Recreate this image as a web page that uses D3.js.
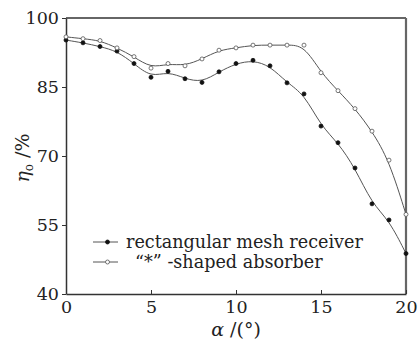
<!DOCTYPE html>
<html>
<head>
<meta charset="utf-8">
<script src="https://cdn.jsdelivr.net/npm/d3@7"></script>
<style>
  body { margin: 0; background: #fff; }
  svg, svg text { font-family: 'DejaVu Serif', 'Liberation Serif', serif; }
</style>
</head>
<body>
<div id="chart"></div>
<script>
var angles = [0, 1, 2, 3, 4, 5, 6, 7, 8, 9, 10, 11, 12, 13, 14, 15, 16, 17, 18, 19, 20];
var meshReceiver = [95.2, 94.6, 93.8, 92.8, 90.1, 87.1, 88.4, 86.8, 86.0, 88.3, 90.1, 90.8, 89.6, 85.9, 83.5, 76.5, 72.9, 67.4, 59.6, 56.1, 48.8];
var starAbsorber = [95.9, 95.5, 95.1, 93.5, 91.6, 89.1, 90.1, 89.6, 91.1, 93.0, 93.5, 94.1, 94.1, 94.1, 94.1, 88.1, 84.2, 80.3, 75.4, 69.1, 57.3];
var xTicks = [0, 5, 10, 15, 20];
var yTicks = [40, 55, 70, 85, 100];
var legendLabels = ["rectangular mesh receiver", "\u201c*\u201d -shaped absorber"];

var margin = {top: 18, right: 13, bottom: 47, left: 66},
    totalW = 419, totalH = 341,
    width = totalW - margin.left - margin.right,
    height = totalH - margin.top - margin.bottom;

var svg = d3.select("#chart").append("svg")
    .attr("width", totalW)
    .attr("height", totalH);

var g = svg.append("g")
    .attr("transform", "translate(" + margin.left + "," + margin.top + ")");

var x = d3.scaleLinear().domain([0, 20]).range([0, width]);
var y = d3.scaleLinear().domain([40, 100]).range([height, 0]);

// frame
g.append("line").attr("x1", 0).attr("x2", width).attr("y1", 0).attr("y2", 0)
  .attr("stroke", "#333").attr("stroke-width", 1.3);
g.append("line").attr("x1", width).attr("x2", width).attr("y1", 0).attr("y2", height)
  .attr("stroke", "#666").attr("stroke-width", 2.2);

var xAxis = d3.axisBottom(x).tickValues(xTicks).tickSizeInner(-4).tickSizeOuter(0).tickPadding(7);
var yAxis = d3.axisLeft(y).tickValues(yTicks).tickSizeInner(4).tickSizeOuter(0).tickPadding(3);

var gx = g.append("g").attr("transform", "translate(0," + height + ")").call(xAxis);
var gy = g.append("g").call(yAxis);

[gx, gy].forEach(function (a) {
  a.attr("font-family", null).attr("font-size", 17.5);
  a.select(".domain").attr("stroke", "#333").attr("stroke-width", 1.5);
  a.selectAll(".tick line").attr("stroke", "#333").attr("stroke-width", 1);
  a.selectAll(".tick text").attr("fill", "#222");
});
gx.selectAll(".tick text").attr("y", 7).attr("dy", "0.71em");
gy.selectAll(".tick text").attr("dy", "0.32em");

var line = d3.line()
    .x(function (d, i) { return x(angles[i]); })
    .y(function (d) { return y(d); })
    .curve(d3.curveBasis);

var series = [
  {values: meshReceiver, fill: "#111", stroke: "#111"},
  {values: starAbsorber, fill: "#fff", stroke: "#555"}
];

series.forEach(function (s) {
  g.append("path").datum(s.values)
    .attr("fill", "none")
    .attr("stroke", "#555")
    .attr("stroke-width", 1)
    .attr("d", line);
  g.selectAll(null).data(s.values).enter().append("circle")
    .attr("cx", function (d, i) { return x(angles[i]); })
    .attr("cy", function (d) { return y(d); })
    .attr("r", 2)
    .attr("fill", s.fill)
    .attr("stroke", s.stroke)
    .attr("stroke-width", 0.8);
});

// legend
var legend = g.append("g").attr("transform", "translate(27," + (height - 52) + ")");
series.forEach(function (s, i) {
  var row = legend.append("g").attr("transform", "translate(0," + (i * 20) + ")");
  row.append("line").attr("x1", 0).attr("x2", 25).attr("y1", 0).attr("y2", 0)
    .attr("stroke", "#555").attr("stroke-width", 1);
  row.append("circle").attr("cx", 14.5).attr("cy", 0).attr("r", 2)
    .attr("fill", s.fill).attr("stroke", s.stroke).attr("stroke-width", 0.8);
  row.append("text")
    .attr("x", i === 0 ? 33 : 42)
    .attr("y", 0)
    .attr("dy", "0.32em")
    .attr("font-size", 17.6)
    .attr("fill", "#222")
    .text(legendLabels[i]);
});

// axis titles
var xt = svg.append("text")
    .attr("x", margin.left + x(10))
    .attr("y", 336)
    .attr("text-anchor", "middle")
    .attr("font-size", 19)
    .attr("fill", "#222");
xt.append("tspan").attr("font-style", "italic").text("\u03b1");
xt.append("tspan").text(" /(\u00b0)");

var yt = svg.append("text")
    .attr("transform", "translate(29," + (margin.top + y(70) + 2) + ") rotate(-90)")
    .attr("text-anchor", "middle")
    .attr("font-size", 19)
    .attr("fill", "#222");
yt.append("tspan").attr("font-style", "italic").text("\u03b7");
yt.append("tspan").attr("font-size", 12).attr("dy", 4).text("o");
yt.append("tspan").attr("dy", -4).text(" /%");
</script>
</body>
</html>
